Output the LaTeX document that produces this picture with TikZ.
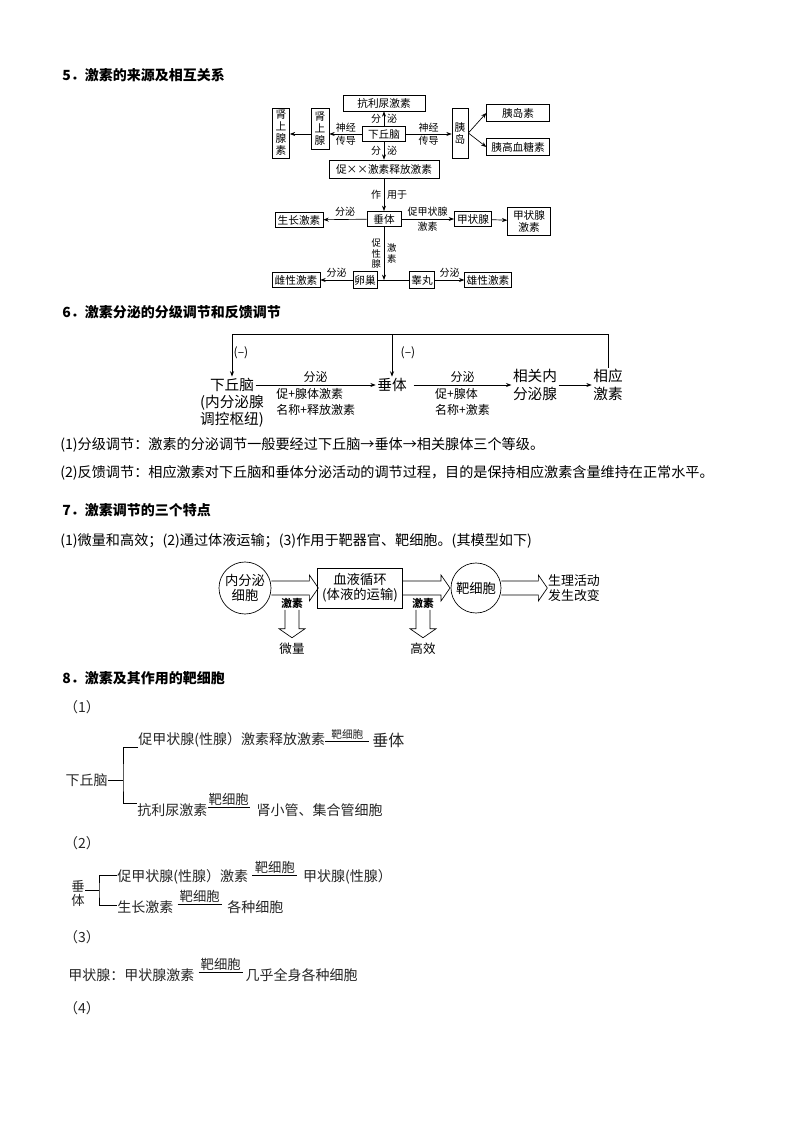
\documentclass[tikz,border=0pt]{standalone}
\usepackage{fontspec}
\setmainfont{Noto Sans CJK SC}
\usetikzlibrary{arrows.meta,calc,positioning}

\tikzset{
  box/.style={draw, inner sep=1pt, align=center, font=\fontsize{8}{9}\selectfont},
  lab/.style={inner sep=2pt, align=center, font=\fontsize{7.5}{10}\selectfont},
  vlab/.style={inner sep=2pt, align=center, font=\fontsize{7}{8}\selectfont},
  head/.style={anchor=west, inner sep=0pt, font=\fontsize{10.5}{12}\selectfont\bfseries},
  txt/.style={anchor=west, inner sep=0pt, font=\fontsize{10.6}{12}\selectfont},
  big/.style={inner sep=1pt, align=center, font=\fontsize{11}{13.5}\selectfont},
  mid/.style={inner sep=2pt, align=left, font=\fontsize{9}{12}\selectfont},
  cell/.style={draw, circle, inner sep=0pt, align=center, font=\fontsize{10}{11.3}\selectfont},
  tree/.style={inner sep=0pt, text=black!85, font=\fontsize{10.5}{12}\selectfont},
  tag/.style={inner sep=1pt, text=black!85, font=\fontsize{8}{9}\selectfont},
  tagb/.style={inner sep=1pt, text=black!85, font=\fontsize{10}{11}\selectfont},
  pics/hollow/.style={code={
    \draw (0,-7) -- (#1-9,-7) -- (#1-9,-13) -- (#1,0) -- (#1-9,13) -- (#1-9,7) -- (0,7);}},
}

\begin{document}
\begin{tikzpicture}[x=0.75pt, y=-0.75pt, line width=0.5pt, >={Stealth[length=4pt,width=3pt]}]
  \fill[white] (0,0) rectangle (794,1123);
  \useasboundingbox (0,0) rectangle (794,1123);

  % 5
  \node[head] (h5) at (62,75) {5．激素的来源及相互关系};
  \node[box, minimum width=61.5pt, minimum height=12pt] (adh) at (384,103) {抗利尿激素};
  \node[box, minimum width=32pt, minimum height=11.5pt] (hyp) at (384,134) {下丘脑};
  \node[box, minimum width=12.75pt, minimum height=37.5pt] (shs) at (281,133) {肾\\上\\腺\\素};
  \node[box, minimum width=13.5pt, minimum height=31pt] (sx) at (320,129) {肾\\上\\腺};
  \node[box, minimum width=12pt, minimum height=37.5pt] (yd) at (460,133) {胰\\岛};
  \node[box, minimum width=47pt, minimum height=12.75pt] (yds) at (518,113) {胰岛素};
  \node[box, minimum width=47pt, minimum height=12.75pt] (ygx) at (518,147) {胰高血糖素};
  \node[box, minimum width=82.5pt, minimum height=13.5pt] (cfs) at (384,169) {促××激素释放激素};
  \node[box, minimum width=25.5pt, minimum height=11.5pt] (ct) at (384,219) {垂体};
  \node[box, minimum width=36pt, minimum height=11.5pt] (szjs) at (299,220) {生长激素};
  \node[box, minimum width=28pt, minimum height=11.5pt] (jzx) at (473,219) {甲状腺};
  \node[box, minimum width=32pt, minimum height=21pt] (jzxjs) at (529,221) {甲状腺\\激素};
  \node[box, minimum width=18pt, minimum height=12.75pt] (lc) at (365,280) {卵巢};
  \node[box, minimum width=19pt, minimum height=12.75pt] (gw) at (422,280) {睾丸};
  \node[box, minimum width=36pt, minimum height=11.5pt] (cxjs) at (296,280) {雌性激素};
  \node[box, minimum width=35pt, minimum height=11.5pt] (xxjs) at (488,280) {雄性激素};

  \draw[->] (hyp) -- node[lab,left]{分} node[lab,right]{泌} (adh);
  \draw[->] (hyp) -- node[lab,left]{分} node[lab,right]{泌} (cfs);
  \draw[->] (hyp.west) -- node[lab]{神经\\传导} (sx.east |- hyp.west);
  \draw[->] (sx.west |- hyp.west) -- (shs.east |- hyp.west);
  \draw[->] (hyp.east) -- node[lab]{神经\\传导} (yd.west |- hyp.east);
  \draw[->] (yd.east) -- (yds.west);
  \draw[->] (yd.east) -- (ygx.west);
  \draw[->] (cfs) -- node[lab,left]{作} node[lab,right]{用于} (ct);
  \draw[->] (ct) -- node[lab,above]{分泌} (szjs);
  \draw[->] (ct) -- node[lab,above]{促甲状腺} node[lab,below]{激素} (jzx);
  \draw[->] (jzx) -- (jzxjs);
  \draw[->] (ct) -- node[vlab,left]{促\\性\\腺} node[vlab,right]{激\\素} (ct |- lc);
  \draw (lc) -- (gw);
  \draw[->] (lc) -- node[lab,above]{分泌} (cxjs);
  \draw[->] (gw) -- node[lab,above]{分泌} (xxjs);

  % 6
  \node[head] (h6) at (62,312) {6．激素分泌的分级调节和反馈调节};
  \node[big] (hyp6) at (232,385) {下丘脑};
  \node[big, below=0pt of hyp6, font=\fontsize{11}{12.75}\selectfont] (hyp6n) {(内分泌腺\\调控枢纽)};
  \node[big] (pit6) at (392,385) {垂体};
  \node[big] (gl6) at (535,385) {相关内\\分泌腺};
  \node[big] (hor6) at (608,385) {相应\\激素};
  \coordinate (fb) at (610,334);

  \draw[->] (hyp6) -- node[mid,above]{分泌} node[mid,below]{促+腺体激素\\名称+释放激素} (pit6);
  \draw[->] ([xshift=4pt]pit6.east) -- node[mid,above]{分泌} node[mid,below]{促+腺体\\名称+激素} (gl6);
  \draw[->] (gl6) -- (hor6);
  \draw[->] (hor6.north) -- (hor6.north |- fb) -| (hyp6.north);
  \draw[->] (pit6 |- fb) -- (pit6.north);
  \node[mid] (neg1) at (241,353) {(–)};
  \node[mid] (neg2) at (408,353) {(–)};

  \node[txt] (t61) at (60,445) {(1)分级调节：激素的分泌调节一般要经过下丘脑→垂体→相关腺体三个等级。};
  \node[txt] (t62) at (60,473) {(2)反馈调节：相应激素对下丘脑和垂体分泌活动的调节过程，目的是保持相应激素含量维持在正常水平。};

  % 7
  \node[head] (h7) at (62,510) {7．激素调节的三个特点};
  \node[txt] (t71) at (60,541) {(1)微量和高效；(2)通过体液运输；(3)作用于靶器官、靶细胞。(其模型如下)};
  \node[cell, minimum size=39pt] (c1) at (245,588) {内分泌\\细胞};
  \node[draw, minimum width=64pt, minimum height=30pt, inner sep=1pt, align=center,
        font=\fontsize{10}{11.3}\selectfont] (bl) at (360,588) {血液循环\\(体液的运输)};
  \node[cell, minimum size=37.5pt] (c2) at (476,588) {靶细胞};
  \node[big, font=\fontsize{9.7}{11.3}\selectfont] (out) at (574,588) {生理活动\\发生改变};
  \pic at (c1.east) {hollow=47};
  \pic at (bl.east) {hollow=47};
  \pic at (c2.east) {hollow=46};
  \node[inner sep=1pt, font=\fontsize{8}{9}\selectfont\bfseries] (js1) at (292,603) {激素};
  \node[inner sep=1pt, font=\fontsize{8}{9}\selectfont\bfseries] (js2) at (423,603) {激素};
  \pic[rotate=-90] at (js1.south) {hollow=28};
  \pic[rotate=-90] at (js2.south) {hollow=28};
  \node[inner sep=1pt, font=\fontsize{9.4}{11}\selectfont] (wl) at (292,649) {微量};
  \node[inner sep=1pt, font=\fontsize{9.4}{11}\selectfont] (gx) at (423,649) {高效};

  % 8
  \node[head] (h8) at (62,678) {8．激素及其作用的靶细胞};
  \node[tree] (n1) at (82,707) {（1）};
  \node[tree, anchor=east] (hyp8) at (108,780) {下丘脑};
  \node[tree, anchor=west] (r11) at (138,740) {促甲状腺(性腺）激素释放激素};
  \draw ([yshift=-1pt]r11.east) -- ++(44,0) coordinate (e11) node[tag, midway, above] {靶细胞};
  \node[tree, anchor=west, font=\fontsize{12}{14}\selectfont] (ct8) at ([xshift=2pt]e11 |- r11) {垂体};
  \node[tree, anchor=west] (r12) at (137,810) {抗利尿激素};
  \draw ([yshift=2pt]r12.east) -- ++(42,0) coordinate (e12) node[tagb, midway, above] {靶细胞};
  \node[tree, anchor=west] (s12) at ([xshift=5pt]e12 |- r12) {肾小管、集合管细胞};
  \draw (hyp8.east) -- ++(15,0) coordinate (k1);
  \draw (r11.south west) -| (k1) |- (r12.north west);

  \node[tree] (n2) at (82,843) {（2）};
  \node[tree, align=center, font=\fontsize{10}{10.5}\selectfont] (ct9) at (78,893) {垂\\体};
  \node[tree, anchor=west] (r21) at (117,877) {促甲状腺(性腺）激素};
  \draw ([xshift=3pt,yshift=1pt]r21.east) -- ++(45,0) coordinate (e21) node[tagb, midway, above] {靶细胞};
  \node[tree, anchor=west] (s21) at ([xshift=4pt]e21 |- r21) {甲状腺(性腺）};
  \node[tree, anchor=west] (r22) at (117,907) {生长激素};
  \draw ([xshift=3pt,yshift=2pt]r22.east) -- ++(44,0) coordinate (e22) node[tagb, midway, above] {靶细胞};
  \node[tree, anchor=west] (s22) at ([xshift=4pt]e22 |- r22) {各种细胞};
  \draw ([yshift=2pt]ct9.east) -- ++(14,0) coordinate (k2);
  \draw ([yshift=1pt]r21.west) -| (k2) |- ([yshift=1pt]r22.west);

  \node[tree] (n3) at (82,937) {（3）};
  \node[tree, anchor=west] (r31) at (68,975) {甲状腺：甲状腺激素};
  \draw ([xshift=3pt,yshift=2pt]r31.east) -- ++(44,0) coordinate (e31) node[tagb, midway, above] {靶细胞};
  \node[tree, anchor=west] (s31) at ([xshift=2pt]e31 |- r31) {几乎全身各种细胞};

  \node[tree] (n4) at (82,1008) {（4）};
\end{tikzpicture}
\end{document}
